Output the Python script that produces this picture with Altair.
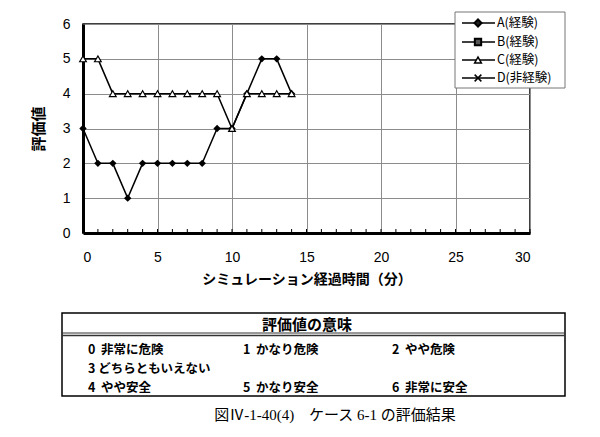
import altair as alt
import pandas as pd

# ---------------- data ----------------
times = list(range(0, 15))
series_a = [3, 2, 2, 1, 2, 2, 2, 2, 2, 3, 3, 4, 5, 5, 4]
series_c = [5, 5, 4, 4, 4, 4, 4, 4, 4, 4, 3, 4, 4, 4, 4]
legend_names = ["A(経験)", "B(経験)", "C(経験)", "D(非経験)"]
x_ticks = [0, 5, 10, 15, 20, 25, 30]
y_ticks = [0, 1, 2, 3, 4, 5, 6]
minor_ticks = list(range(0, 31))
meanings = ["0\u00a0\u00a0非常に危険", "1\u00a0\u00a0かなり危険", "2\u00a0\u00a0やや危険",
            "3\u00a0どちらともいえない",
            "4\u00a0\u00a0やや安全", "5\u00a0\u00a0かなり安全", "6\u00a0\u00a0非常に安全"]
table_title = "評価値の意味"
caption = "図Ⅳ-1-40(4)\u3000ケース 6-1 の評価結果"
x_title = "シミュレーション経過時間（分）"
y_title = "評価値"

# ---------------- layout / style ----------------
W, H = 447, 209
PAD_L, PAD_T = 83, 24
JP = "Noto Sans CJK JP"
LAT = "Liberation Sans"

df = pd.DataFrame({
    "t": times * 2,
    "v": series_a + series_c,
    "s": ["A"] * len(times) + ["C"] * len(times),
})

xscale = alt.Scale(domain=[0, 30], nice=False)
yscale = alt.Scale(domain=[0, 6], nice=False)

xaxis = alt.Axis(values=x_ticks, title=x_title, ticks=False, labelOverlap=False,
                 labelFont=LAT, labelFontSize=14, labelColor="black",
                 labelPadding=17, titleFont=JP, titleFontSize=14,
                 titleFontWeight="bold", titleColor="black", titlePadding=8,
                 domainColor="black", domainWidth=3,
                 gridColor="#8c8c8c", gridWidth=1)
yaxis = alt.Axis(values=y_ticks, title=y_title, ticks=False,
                 labelOverlap=False,
                 labelFont=LAT, labelFontSize=14, labelColor="black",
                 labelPadding=13, titleFont=JP, titleFontSize=15,
                 titleFontWeight="bold", titleColor="black", titlePadding=16,
                 domainColor="black", domainWidth=3,
                 gridColor="#8c8c8c", gridWidth=1)

X = alt.X("t:Q", scale=xscale, axis=xaxis)
Y = alt.Y("v:Q", scale=yscale, axis=yaxis)

lines = alt.Chart(df).mark_line(color="black", strokeWidth=1.5).encode(
    x=X, y=Y, detail="s:N",
)
pts_a = alt.Chart(df).transform_filter("datum.s == 'A'").mark_point(
    shape="diamond", filled=True, color="black", size=55, opacity=1
).encode(x=X, y=Y)
pts_c = alt.Chart(df).transform_filter("datum.s == 'C'").mark_point(
    shape="triangle-up", filled=True, fill="white", stroke="black",
    strokeWidth=1.2, size=45, opacity=1
).encode(x=X, y=Y)

minor = alt.Chart(pd.DataFrame({"t": minor_ticks})).mark_rule(
    color="black", strokeWidth=1
).encode(x=X, y=alt.value(H - 4), y2=alt.value(H))

layers = [lines, pts_a, pts_c, minor]

# ---------- manual legend ----------
one = pd.DataFrame({"k": [0]})
layers.append(alt.Chart(one).mark_rect(
    fill="white", stroke="#777", strokeWidth=1
).encode(x=alt.value(372), x2=alt.value(482), y=alt.value(-12), y2=alt.value(64)))

leg_rows = [-1, 18, 36, 54]
leg_shapes = ["diamond", "square", "triangle-up",
              "M-1,-1L1,1M-1,1L1,-1"]
leg_fill = [True, True, False, False]
for i, name in enumerate(legend_names):
    yy = leg_rows[i]
    layers.append(alt.Chart(one).mark_rule(color="black", strokeWidth=1.5).encode(
        x=alt.value(379), x2=alt.value(412), y=alt.value(yy)))
    if leg_fill[i]:
        mk = alt.Chart(one).mark_point(shape=leg_shapes[i], filled=True,
                                       color="#222" if i == 0 else "#555",
                                       stroke="black", size=50 if i == 0 else 40,
                                       opacity=1)
    else:
        mk = alt.Chart(one).mark_point(shape=leg_shapes[i], filled=False,
                                       fill="white", stroke="black",
                                       strokeWidth=1.5, size=45, opacity=1)
    layers.append(mk.encode(x=alt.value(395), y=alt.value(yy)))
    layers.append(alt.Chart(pd.DataFrame({"lab": [name]})).mark_text(
        align="left", baseline="middle", font=JP, fontSize=12.5, color="black"
    ).encode(x=alt.value(414), y=alt.value(yy), text="lab:N"))

# ---------- meaning table ----------
layers.append(alt.Chart(one).mark_rect(
    fill="white", stroke="black", strokeWidth=1.5
).encode(x=alt.value(-21), x2=alt.value(482), y=alt.value(289), y2=alt.value(372)))
layers.append(alt.Chart(pd.DataFrame({"lab": [table_title]})).mark_text(
    align="center", baseline="middle", font=JP, fontSize=15, fontWeight="bold",
    color="black").encode(x=alt.value(224), y=alt.value(301), text="lab:N"))
for yy, wdt in [(309, 1), (311.5, 1.5)]:
    layers.append(alt.Chart(one).mark_rule(color="#333", strokeWidth=wdt).encode(
        x=alt.value(-21), x2=alt.value(482), y=alt.value(yy)))

col_x = [5, 160, 309]
row_y = [326, 345, 364]
cells = [(0, 0), (0, 1), (0, 2), (1, 0), (2, 0), (2, 1), (2, 2)]
for lab, (r, c) in zip(meanings, cells):
    layers.append(alt.Chart(pd.DataFrame({"lab": [lab]})).mark_text(
        align="left", baseline="middle", font=JP, fontSize=12.5,
        fontWeight="bold", color="black"
    ).encode(x=alt.value(col_x[c]), y=alt.value(row_y[r]), text="lab:N"))

layers.append(alt.Chart(pd.DataFrame({"lab": [caption]})).mark_text(
    align="center", baseline="middle", font="Liberation Serif, " + JP,
    fontSize=15, color="black"
).encode(x=alt.value(252), y=alt.value(391), text="lab:N"))

chart = alt.layer(*layers).properties(
    width=W, height=H,
    autosize=alt.AutoSizeParams(type="none"),
    padding={"left": PAD_L, "top": PAD_T, "right": 600 - PAD_L - W,
             "bottom": 437 - PAD_T - H},
    background="white",
).configure_view(stroke="black", strokeWidth=1.5)

chart.save("out.html", embed_options={"renderer": "svg", "actions": False})
